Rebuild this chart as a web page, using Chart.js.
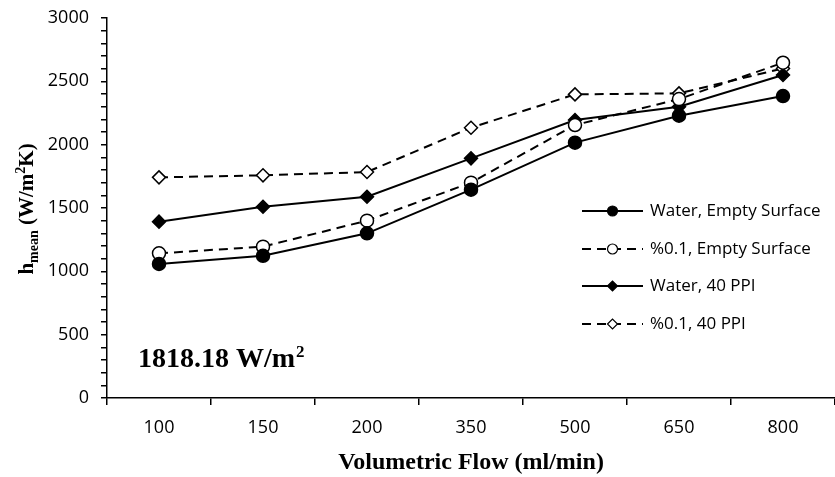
<!DOCTYPE html>
<html>
<head>
<meta charset="utf-8">
<script src="https://cdn.jsdelivr.net/npm/chart.js@4.4.1/dist/chart.umd.min.js"></script>
<style>
  html, body { margin: 0; padding: 0; background: #fff; }
  #wrap { width: 835px; height: 477px; }
</style>
</head>
<body>
<div id="wrap"><canvas id="c" width="835" height="477"></canvas></div>
<script>
// flow rates (ml/min)
const flows = ['100', '150', '200', '350', '500', '650', '800'];
// h_mean values (W/m2K)
const waterEmpty = [1058, 1123, 1300, 1645, 2016, 2229, 2384];
const nanoEmpty  = [1142, 1195, 1400, 1700, 2155, 2360, 2647];
const water40    = [1392, 1510, 1589, 1892, 2195, 2300, 2550];
const nano40     = [1742, 1758, 1784, 2134, 2397, 2405, 2602];
const seriesNames = ['Water, Empty Surface', '%0.1, Empty Surface', 'Water, 40 PPI', '%0.1, 40 PPI'];
const yMax = 3000;

const DASH = [9, 6];

function ds(label, data, style, filled, dashed, r) {
  return {
    label: label,
    data: data,
    borderColor: '#000',
    borderWidth: 2,
    borderDash: dashed ? DASH : [],
    pointStyle: style,
    pointRadius: r,
    pointHoverRadius: r,
    pointBorderWidth: 1.5,
    pointBorderColor: '#000',
    pointBackgroundColor: filled ? '#000' : '#fff',
    fill: false,
    tension: 0,
    clip: false
  };
}

// y title, heat flux note, legend
const extras = {
  id: 'extras',
  afterDraw(chart) {
    const ctx = chart.ctx;
    const area = chart.chartArea;
    ctx.save();
    ctx.fillStyle = '#000';
    ctx.textBaseline = 'alphabetic';

    // y axis title with subscript / superscript
    const big = 'bold 21px "Liberation Serif"';
    const small = 'bold 14px "Liberation Serif"';
    const parts = [
      { t: 'h', f: big, dy: 0 },
      { t: 'mean', f: small, dy: 5 },
      { t: ' (W/m', f: big, dy: 0 },
      { t: '2', f: small, dy: -8 },
      { t: 'K)', f: big, dy: 0 }
    ];
    let total = 0;
    parts.forEach(p => { ctx.font = p.f; p.w = ctx.measureText(p.t).width; total += p.w; });
    ctx.save();
    ctx.translate(33, (area.top + area.bottom) / 2 + 1);
    ctx.rotate(-Math.PI / 2);
    let x = -total / 2;
    parts.forEach(p => { ctx.font = p.f; ctx.fillText(p.t, x, p.dy); x += p.w; });
    ctx.restore();

    // heat flux note
    ctx.font = 'bold 28px "Liberation Serif"';
    const note = '1818.18 W/m';
    ctx.fillText(note, 138, 367);
    const nw = ctx.measureText(note).width;
    ctx.font = 'bold 17px "Liberation Serif"';
    ctx.fillText('2', 138 + nw + 1, 357);

    // legend
    const x0 = 582, x1 = 643, tx = 650;
    const rows = [211, 249, 286, 324];
    chart.data.datasets.forEach((d, i) => {
      const y = rows[i];
      ctx.strokeStyle = '#000';
      ctx.lineWidth = 2;
      ctx.setLineDash(d.borderDash.length ? DASH : []);
      ctx.beginPath();
      ctx.moveTo(x0, y);
      ctx.lineTo(x1, y);
      ctx.stroke();
      ctx.setLineDash([]);
      ctx.fillStyle = d.pointBackgroundColor;
      ctx.lineWidth = 1.2;
      Chart.helpers.drawPoint(ctx, { pointStyle: d.pointStyle, radius: 5, borderWidth: 1.2 }, (x0 + x1) / 2, y);
      ctx.fillStyle = '#000';
      ctx.font = '17px "Open Sans"';
      ctx.textBaseline = 'middle';
      ctx.fillText(d.label, tx, y);
      ctx.textBaseline = 'alphabetic';
    });
    ctx.restore();
  }
};

new Chart(document.getElementById('c').getContext('2d'), {
  type: 'line',
  data: {
    labels: flows,
    datasets: [
      ds(seriesNames[0], waterEmpty, 'circle', true, false, 6.5),
      ds(seriesNames[1], nanoEmpty, 'circle', false, true, 6.5),
      ds(seriesNames[2], water40, 'rectRot', true, false, 6.5),
      ds(seriesNames[3], nano40, 'rectRot', false, true, 6.5)
    ]
  },
  options: {
    responsive: false,
    animation: false,
    events: [],
    layout: { autoPadding: false, padding: { top: 18, right: 0, left: 0, bottom: 0 } },
    plugins: {
      legend: { display: false },
      tooltip: { enabled: false }
    },
    scales: {
      x: {
        offset: true,
        grid: { offset: true, drawOnChartArea: false, drawTicks: true, tickLength: 7, color: '#000', lineWidth: 1.5 },
        border: { display: true, color: '#000', width: 1.5 },
        ticks: { color: '#000', font: { family: 'Open Sans', size: 18 }, padding: 12, maxRotation: 0 },
        title: {
          display: true,
          text: 'Volumetric Flow (ml/min)',
          color: '#000',
          font: { family: 'Liberation Serif', size: 24, weight: 'bold' },
          padding: { top: 0, bottom: 0 }
        },
        afterFit(scale) {
          scale.height = 79;
          scale.paddingLeft = 0;
          scale.paddingRight = 0;
        }
      },
      y: {
        min: 0,
        max: yMax,
        grid: { drawOnChartArea: false, drawTicks: true, tickLength: 6, color: '#000', lineWidth: 1.5 },
        border: { display: true, color: '#000', width: 1.5 },
        ticks: {
          stepSize: 100,
          autoSkip: false,
          color: '#000',
          font: { family: 'Open Sans', size: 18 },
          padding: 12,
          callback: v => (v % 500 === 0 ? v : '')
        },
        afterFit(scale) {
          scale.width = 107;
          scale.paddingTop = 0;
          scale.paddingBottom = 0;
        }
      }
    }
  },
  plugins: [extras]
});
</script>
</body>
</html>
